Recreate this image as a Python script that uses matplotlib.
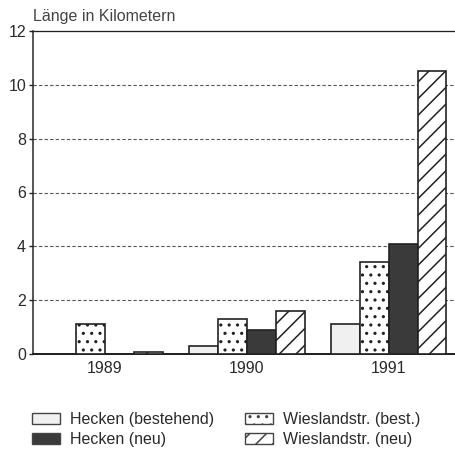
import matplotlib
matplotlib.use("Agg")
import matplotlib.pyplot as plt
from matplotlib.patches import Patch
import numpy as np

years = ["1989", "1990", "1991"]
series_names = ["Hecken (bestehend)", "Wieslandstr. (best.)", "Hecken (neu)", "Wieslandstr. (neu)"]
hecken_best = [0.0, 0.3, 1.1]
wiesland_best = [1.1, 1.3, 3.4]
hecken_neu = [0.0, 0.9, 4.1]
wiesland_neu = [0.07, 1.6, 10.5]
yticks = [0, 2, 4, 6, 8, 10, 12]
ylabel = "Länge in Kilometern"

plt.rcParams['font.family'] = ['Liberation Sans', 'DejaVu Sans']
plt.rcParams['hatch.linewidth'] = 1.1

DPI = 100
PX = 72 / DPI  # points per pixel
fig = plt.figure(figsize=(455 / DPI, 455 / DPI), dpi=DPI)
ax = fig.add_axes([33 / 455, 1 - 354 / 455, 1 - 33 / 455, (354 - 31) / 455])

txt = "#2a2a2a"
edge = "#222222"
fs = 16 * PX
x = np.arange(len(years))
w = 0.204
styles = [
    dict(facecolor="#f0f0f0", hatch=None),
    dict(facecolor="white", hatch=".."),
    dict(facecolor="#3a3a3a", hatch=None),
    dict(facecolor="white", hatch="//"),
]
data = [hecken_best, wiesland_best, hecken_neu, wiesland_neu]
proxies = []
for i, (vals, st) in enumerate(zip(data, styles)):
    offs = (i - 1.5) * w
    vals = np.array(vals, dtype=float)
    b = ax.bar(x + offs, vals, width=w, facecolor=st["facecolor"], hatch=st["hatch"],
               edgecolor=edge, linewidth=1.2, zorder=3)
    for rect, v in zip(b, vals):
        if v <= 0:
            rect.set_visible(False)
    proxies.append(Patch(facecolor=st["facecolor"], hatch=st["hatch"],
                         edgecolor="#444444", linewidth=1.0))

ax.set_xlim(-0.507, 2.468)
ax.set_ylim(0, 12)
ax.set_yticks(yticks)
ax.set_yticklabels([str(v) for v in yticks], fontsize=fs, color=txt)
ax.set_xticks(x)
ax.set_xticklabels(years, fontsize=fs, color=txt)
ax.tick_params(axis='x', length=0, pad=7 * PX)
ax.tick_params(axis='y', length=4 * PX, width=1, color=edge, pad=3 * PX)

for v in yticks[1:-1]:
    ax.axhline(v, color="#555555", linewidth=0.8, linestyle=(0, (3, 2)), zorder=1)

ax.spines['right'].set_visible(False)
ax.spines['top'].set_linewidth(1.3 * PX)
ax.spines['left'].set_linewidth(1.5 * PX)
ax.spines['bottom'].set_linewidth(2.0 * PX)
for s in ax.spines.values():
    s.set_color(edge)

fig.text(33 / 455, 1 - 17 / 455, ylabel, fontsize=fs, color="#444444", va='center', ha='left')

order = [0, 2, 1, 3]
leg = fig.legend([proxies[i] for i in order], [series_names[i] for i in order],
                 loc='upper left', bbox_to_anchor=(32 / 455, 1 - 412 / 455),
                 ncol=2, frameon=False, fontsize=fs, borderpad=0, borderaxespad=0,
                 handlelength=1.75, handleheight=0.65, handletextpad=0.6,
                 columnspacing=1.95, labelspacing=0.32)
for t in leg.get_texts():
    t.set_color(txt)

fig.savefig("out.png", dpi=DPI)
